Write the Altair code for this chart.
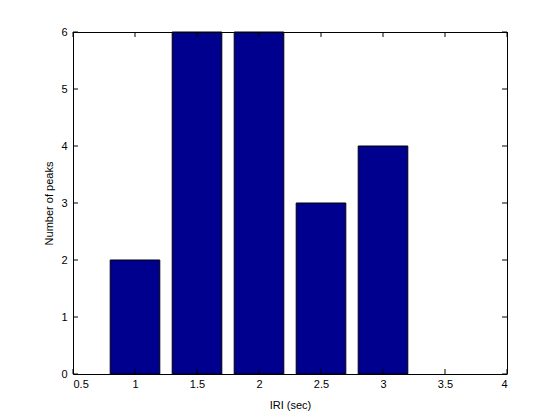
import altair as alt
import pandas as pd

centers = [1.0, 1.5, 2.0, 2.5, 3.0]
counts = [2, 6, 6, 3, 4]
x_ticks = [0.5, 1.0, 1.5, 2.0, 2.5, 3.0, 3.5, 4.0]
y_ticks = [0, 1, 2, 3, 4, 5, 6]
bar_half = 0.2

W, H = 434, 342
FONT = "Liberation Sans"

bars_df = pd.DataFrame({"x": centers, "n": counts})
xt_df = pd.DataFrame({"t": x_ticks})
yt_df = pd.DataFrame({"t": y_ticks})

xs = alt.Scale(domain=[0.5, 4], nice=False, zero=False)
ys = alt.Scale(domain=[0, 6], nice=False)

bars = alt.Chart(bars_df).transform_calculate(
    x0=f"datum.x - {bar_half}", x1=f"datum.x + {bar_half}"
).mark_rect(color="#00008F", stroke="black", strokeWidth=1).encode(
    x=alt.X("x0:Q", scale=xs, title="IRI (sec)",
            axis=alt.Axis(values=x_ticks, format="~g", tickSize=0, labelPadding=4,
                          domain=True, domainColor="black", domainWidth=1,
                          grid=False, labelFontSize=11, labelFont=FONT,
                          labelColor="black", titleFont=FONT, titleFontSize=11,
                          titleFontWeight="normal", titleColor="black", titlePadding=10)),
    x2="x1:Q",
    y=alt.Y("n:Q", scale=ys, title="Number of peaks",
            axis=alt.Axis(values=y_ticks, format="d", tickSize=0, labelPadding=6,
                          domain=True, domainColor="black", domainWidth=1,
                          grid=False, labelFontSize=11, labelFont=FONT,
                          labelColor="black", titleFont=FONT, titleFontSize=11,
                          titleFontWeight="normal", titleColor="black", titlePadding=6)),
    y2=alt.datum(0),
)

tick_len = 5
xb = alt.Chart(xt_df).mark_rule(color="black").encode(
    x=alt.X("t:Q", scale=xs), y=alt.value(H), y2=alt.value(H - tick_len))
xtop = alt.Chart(xt_df).mark_rule(color="black").encode(
    x=alt.X("t:Q", scale=xs), y=alt.value(0), y2=alt.value(tick_len))
yl = alt.Chart(yt_df).mark_rule(color="black").encode(
    y=alt.Y("t:Q", scale=ys), x=alt.value(0), x2=alt.value(tick_len))
yr = alt.Chart(yt_df).mark_rule(color="black").encode(
    y=alt.Y("t:Q", scale=ys), x=alt.value(W), x2=alt.value(W - tick_len))
top_border = alt.Chart(xt_df).mark_rule(color="black").encode(
    x=alt.value(0), x2=alt.value(W + 0.5), y=alt.value(0.5))
right_border = alt.Chart(xt_df).mark_rule(color="black").encode(
    x=alt.value(W + 0.5), y=alt.value(0), y2=alt.value(H))

chart = alt.layer(bars, xb, xtop, yl, yr, top_border, right_border).properties(
    width=W, height=H,
    autosize=alt.AutoSizeParams(type="none"),
    padding={"left": 65, "top": 24, "right": 45, "bottom": 40},
).configure_view(stroke=None).configure(background="white")

chart.save("out.html", embed_options={"renderer": "svg", "actions": False})
